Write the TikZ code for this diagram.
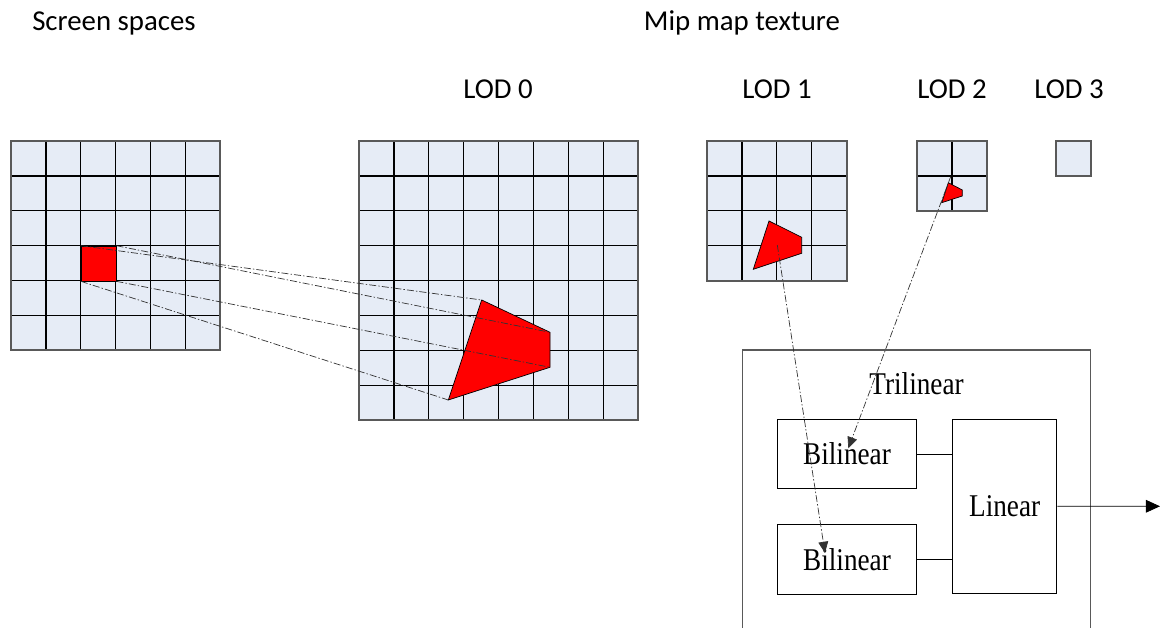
\documentclass[tikz,border=0pt]{standalone}
\usepackage{fontspec}
\setmainfont{Liberation Serif}
\newfontfamily\labelfont{Carlito}
\newfontfamily\boxfont[FakeStretch=0.86]{Liberation Serif}
\usetikzlibrary{arrows.meta, positioning}
\definecolor{texblue}{RGB}{230,236,246}
\definecolor{pixred}{RGB}{255,0,0}

\begin{document}
\begin{tikzpicture}[x=0.025cm, y=-0.025cm, node distance=0.87cm,
    title/.style={font=\labelfont\fontsize{20.5}{24}\selectfont, anchor=base},
    gridline/.style={draw=black, line width=0.9pt},
    frame/.style={draw=black!65, line width=1.4pt},
    foot/.style={fill=pixred, draw=black, line width=0.5pt},
    ray/.style={draw=black!80, line width=0.5pt, dash pattern=on 5pt off 1.5pt on 1pt off 1.5pt},
    filter/.style={rectangle, draw, line width=0.6pt, inner sep=0pt, font=\boxfont\fontsize{22.5}{25}\selectfont}]

\useasboundingbox (0,0) rectangle (1160,628);

% Titles
\node [title] (screen) at (114,31) {Screen spaces};
\node [title] (mipmap) at (742,31) {Mip map texture};
\node [title] (l0) at (498,99) {LOD 0};
\node [title] (l1) at (777,99) {LOD 1};
\node [title] (l2) at (952,99) {LOD 2};
\node [title] (l3) at (1069,99) {LOD 3};

% Grids: screen and the four mip levels
\foreach \gx/\gy/\n in {11/141/6, 359/141/8, 707/141/4, 917/141/2, 1056/141/1} {
  \fill[texblue] (\gx,\gy) rectangle ({\gx+\n*34.9},{\gy+\n*34.9});
  \foreach \i in {0,...,\n} {
    \draw[gridline] ({\gx+\i*34.9},\gy) -- ({\gx+\i*34.9},{\gy+\n*34.9});
    \draw[gridline] (\gx,{\gy+\i*34.9}) -- ({\gx+\n*34.9},{\gy+\i*34.9});
  }
  \draw[frame] (\gx,\gy) rectangle ({\gx+\n*34.9},{\gy+\n*34.9});
}

% Pixel footprint
\node [foot, minimum size=0.8725cm, inner sep=0pt, anchor=north west] (px) at (80.8,245.7) {};

% Footprint in LOD 0
\coordinate (q0a) at (481.7,300);
\coordinate (q0b) at (550,332.3);
\coordinate (q0c) at (550,367.3);
\coordinate (q0d) at (448.3,400);
\draw[foot] (q0a) -- (q0b) -- (q0c) -- (q0d) -- cycle;

% Footprint in LOD 1 and LOD 2
\draw[foot] (769,221) -- (801.7,237.3) -- (801.7,253.3) -- (753.3,269.3) -- cycle;
\draw[foot] (948.3,182.7) -- (962.3,190) -- (962.3,196) -- (941.7,202.7) -- cycle;
\coordinate (c1) at (777.3,245);
\coordinate (c2) at (950.7,176.7);

% Projection of the pixel
\draw[ray] (px.north west) -- (q0a);
\draw[ray] (px.north east) -- (q0b);
\draw[ray] (px.south east) -- (q0c);
\draw[ray] (px.south west) -- (q0d);

% Filtering
\draw[draw=black!65, line width=1pt] (742.7,640) |- (1090.7,350) -- (1090.7,640);
\node [font=\boxfont\fontsize{22.5}{25}\selectfont, anchor=base] (tri) at (916.5,395) {Trilinear};
\node [filter, minimum width=3.49cm, minimum height=1.74cm] (bil1) at (847,454) {Bilinear};
\node [filter, minimum width=3.49cm, minimum height=1.74cm, below=of bil1] (bil2) {Bilinear};
\node [filter, minimum width=2.61cm, minimum height=4.35cm, right=of bil1.north east, anchor=north west] (lin) {Linear};
\coordinate (out) at (1160,506.3);
\coordinate (t1) at (848.3,448.3);
\coordinate (t2) at (825,553);

\draw (bil1.east) -- (bil1.east -| lin.west);
\draw (bil2.east) -- (bil2.east -| lin.west);
\draw[-{Triangle[length=10pt, width=9pt]}, line width=0.6pt] (lin.east) -- (out);

\draw[ray, -{Triangle[length=8pt, width=7pt]}] (c1) -- (t2);
\draw[ray, -{Triangle[length=8pt, width=7pt]}] (c2) -- (t1);

\end{tikzpicture}
\end{document}
